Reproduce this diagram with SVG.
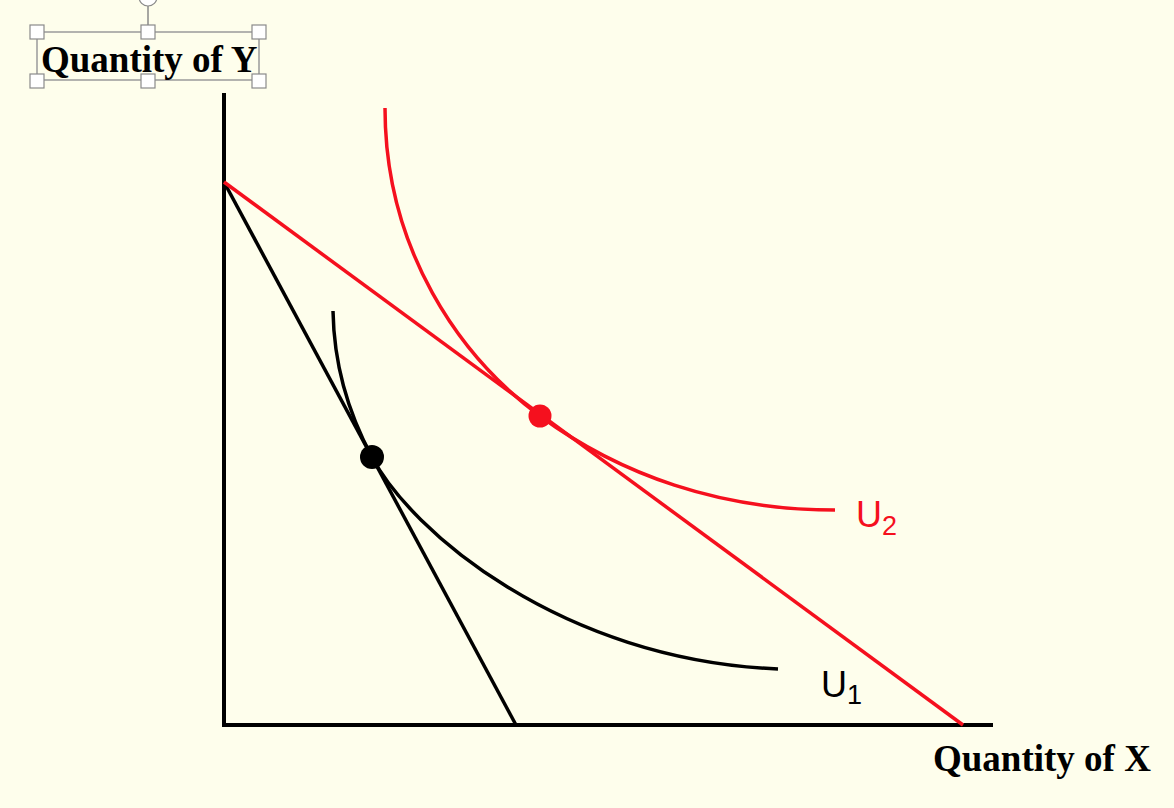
<svg xmlns="http://www.w3.org/2000/svg" width="1174" height="808" viewBox="0 0 1174 808">
<style>
.axis{stroke:#000;stroke-width:4;fill:none}
.blk{stroke:#000;stroke-width:3.5;fill:none}
.red{stroke:#F5101E;stroke-width:3.5;fill:none}
.ttl{font-family:"Liberation Serif","Times New Roman",serif;font-weight:bold;font-size:37px;fill:#000}
.lbl{font-family:"Liberation Sans",Arial,sans-serif;font-size:36px}
.sub{font-size:27px}
.h{fill:#fff;stroke:#8a8a8a;stroke-width:1.2}
</style>
<rect width="1174" height="808" fill="#FEFEEC"/>
<g id="axes">
<line class="axis" x1="224" y1="93" x2="224" y2="727"/>
<line class="axis" x1="222" y1="725" x2="993" y2="725"/>
</g>
<g id="connectors">
<line class="blk" x1="224" y1="182" x2="516" y2="725"/>
<line class="red" x1="224" y1="182" x2="963" y2="725"/>
</g>
<g id="U1">
<path class="blk" d="M333,311 C334,370 352,420 372,457 C410,530 560,660 778,669"/>
<text class="lbl" x="821" y="697" fill="#000">U<tspan class="sub" dy="7">1</tspan></text>
</g>
<g id="U2">
<path class="red" d="M385,108 C385,250 460,357 540,416 C620,475 720,510 835,510"/>
<text class="lbl" x="856" y="527" fill="#F5101E">U<tspan class="sub" dy="8">2</tspan></text>
</g>
<g id="points">
<circle cx="372" cy="457" r="12" fill="#000"/>
<circle cx="540" cy="416" r="11.5" fill="#F5101E"/>
</g>
<g id="xlabel">
<text class="ttl" x="933" y="771">Quantity of X</text>
</g>
<g id="ylabel">
<line x1="148" y1="6" x2="148" y2="32" stroke="#8a8a8a" stroke-width="1.5"/>
<circle class="h" cx="148" cy="-3" r="9"/>
<rect x="37" y="32" width="222" height="48" fill="none" stroke="#9a9a9a" stroke-width="1.5"/>
<text class="ttl" x="41" y="72">Quantity of Y</text>
<rect class="h" x="30" y="25" width="14" height="14"/>
<rect class="h" x="141" y="25" width="14" height="14"/>
<rect class="h" x="252" y="25" width="14" height="14"/>
<rect class="h" x="30" y="74" width="14" height="14"/>
<rect class="h" x="141" y="74" width="14" height="14"/>
<rect class="h" x="252" y="74" width="14" height="14"/>
</g>
</svg>
